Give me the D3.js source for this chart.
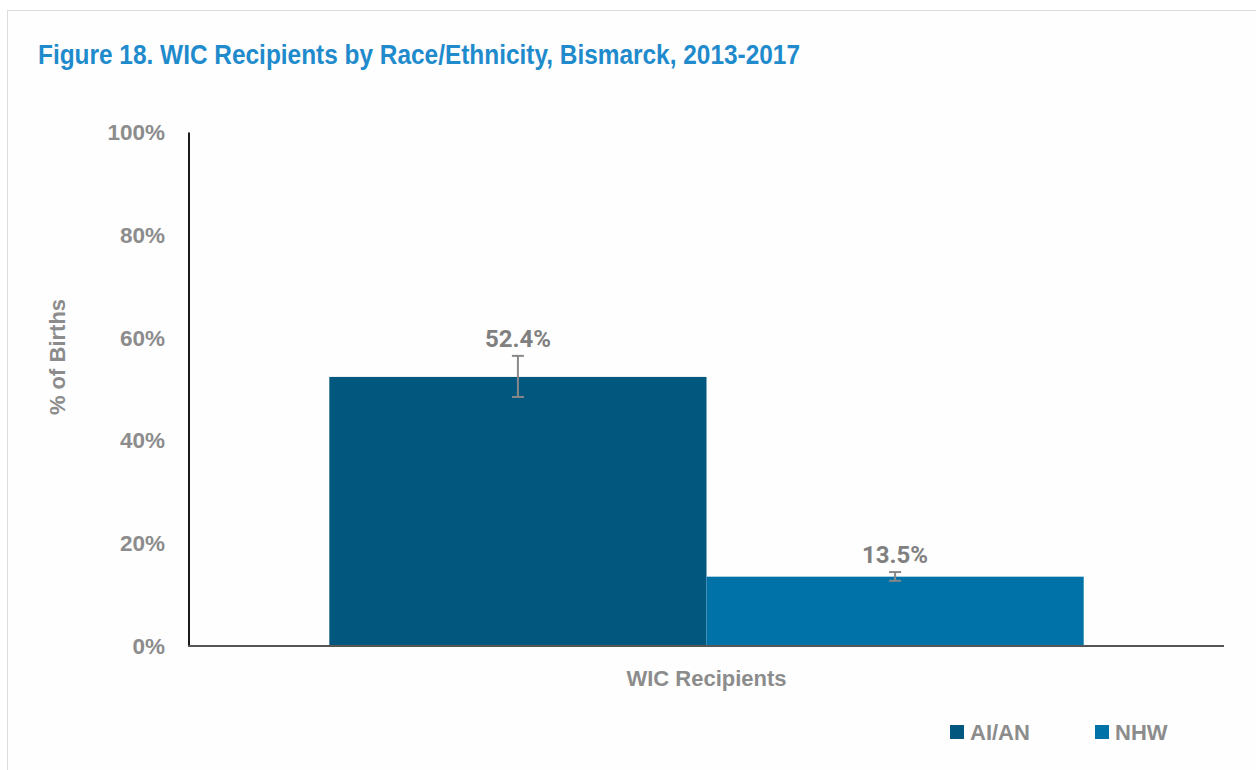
<!DOCTYPE html>
<html><head><meta charset="utf-8">
<script src="https://cdn.jsdelivr.net/npm/d3@7"></script>
<style>
html,body{margin:0;padding:0;background:#fff;}
svg{display:block;}
</style></head>
<body>
<svg id="c" width="1256" height="770"></svg>
<script>
const title = "Figure 18. WIC Recipients by Race/Ethnicity, Bismarck, 2013-2017";
const categories = ["WIC Recipients"];
const seriesNames = ["AI/AN", "NHW"];
const seriesValues = [52.4, 13.5];
const errLow = [48.5, 12.7];
const errHigh = [56.5, 14.4];
const valueLabels = ["52.4%", "13.5%"];
const yTicks = [0, 20, 40, 60, 80, 100];
const colors = ["#02577e", "#0072a8"];

const svg = d3.select("#c");
const gray = "#8c8c8c";
// frame
svg.append("rect").attr("x",7.5).attr("y",10.5).attr("width",1270).attr("height",800)
  .attr("fill","#fefefe").attr("stroke","#dcdcdc").attr("stroke-width",1);

function fitText(sel, w){ sel.attr("textLength", w).attr("lengthAdjust","spacingAndGlyphs"); }

const t = svg.append("text").attr("x",38).attr("y",64)
  .attr("font-family","'Liberation Sans Narrow','Arial Narrow','Liberation Sans',sans-serif")
  .attr("font-weight","bold").attr("font-size",28).attr("fill","#1f8bcc").text(title);
fitText(t, 762);

const m = {l:189, r:1224, t:132.5, b:646};
const y = d3.scaleLinear().domain([0,100]).range([m.b, m.t]);
const x0 = d3.scaleBand().domain(categories).range([m.l, m.r]).paddingInner(0).paddingOuter(0.186);
const x1 = d3.scaleBand().domain(seriesNames).range([0, x0.bandwidth()]).padding(0);

// y axis ticks labels
const yAxis = d3.axisLeft(y).tickValues(yTicks).tickFormat(d=>d+"%").tickSize(0).tickPadding(24);
const ga = svg.append("g").attr("transform",`translate(${m.l},0)`).call(yAxis);
ga.select(".domain").remove();
ga.selectAll("text").attr("font-family","'Liberation Sans',Arial,sans-serif").attr("font-weight","bold")
  .attr("font-size",22.5).attr("fill",gray);

// bars
const g = svg.append("g");
categories.forEach((c)=>{
  seriesNames.forEach((s,i)=>{
    const bx = x0(c)+x1(s);
    g.append("rect").attr("x",bx).attr("y",y(seriesValues[i])).attr("width",x1.bandwidth())
      .attr("height",y(0)-y(seriesValues[i])).attr("fill",colors[i]);
    const cx = bx + x1.bandwidth()/2;
    const eg = g.append("g").attr("stroke","#888").attr("stroke-width",2);
    eg.append("line").attr("x1",cx).attr("x2",cx).attr("y1",y(errHigh[i])).attr("y2",y(errLow[i]));
    eg.append("line").attr("x1",cx-6).attr("x2",cx+6).attr("y1",y(errHigh[i])).attr("y2",y(errHigh[i]));
    eg.append("line").attr("x1",cx-6).attr("x2",cx+6).attr("y1",y(errLow[i])).attr("y2",y(errLow[i]));
    g.append("text").attr("x",cx).attr("y",y(errHigh[i])-9).attr("text-anchor","middle")
      .attr("font-family","Roboto,'Liberation Sans',sans-serif").attr("font-weight","bold")
      .attr("font-size",24).attr("fill","#808080").text(valueLabels[i]);
  });
});

// axis lines
svg.append("line").attr("x1",m.l).attr("x2",m.l).attr("y1",m.t).attr("y2",m.b+1).attr("stroke","#1a1a1a").attr("stroke-width",2);
svg.append("line").attr("x1",m.l-1).attr("x2",m.r).attr("y1",m.b).attr("y2",m.b).attr("stroke","#555").attr("stroke-width",2);

// category label
const xAxis = d3.axisBottom(x0).tickSize(0).tickPadding(24);
const gx = svg.append("g").attr("transform",`translate(0,${m.b})`).call(xAxis);
gx.select(".domain").remove();
gx.selectAll("text").attr("font-family","'Liberation Sans Narrow','Liberation Sans',sans-serif").attr("font-weight","bold")
  .attr("font-size",22).attr("fill",gray);

// y title
svg.append("text").attr("transform","translate(65,357) rotate(-90)").attr("text-anchor","middle")
  .attr("font-family","'Liberation Sans',Arial,sans-serif").attr("font-weight","bold")
  .attr("font-size",22).attr("fill",gray).text("% of Births");

// legend
const lx = [950, 1095];
seriesNames.forEach((s,i)=>{
  svg.append("rect").attr("x",lx[i]).attr("y",725).attr("width",14).attr("height",14).attr("fill",colors[i]);
  svg.append("text").attr("x",lx[i]+20).attr("y",740)
    .attr("font-family","'Liberation Sans Narrow','Liberation Sans',sans-serif").attr("font-weight","bold")
    .attr("font-size",22).attr("fill",gray).text(s);
});
</script>
</body></html>
